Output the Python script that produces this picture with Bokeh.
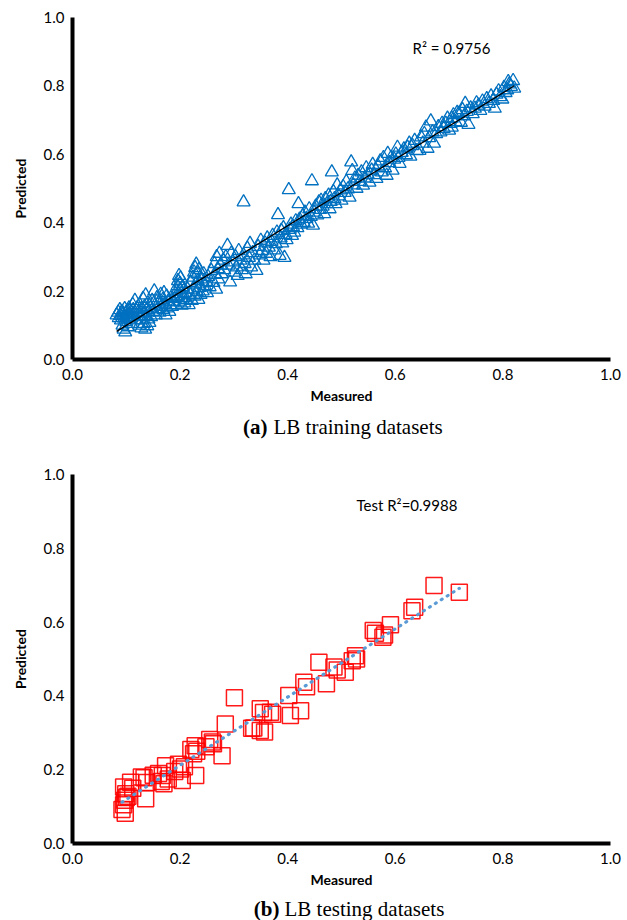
import numpy as np
from bokeh.plotting import figure
from bokeh.layouts import column
from bokeh.models import Range1d, FixedTicker, NumeralTickFormatter, Label
from bokeh.embed import file_html
from bokeh.resources import INLINE

# ---------------- data ----------------
tick_values = [0.0, 0.2, 0.4, 0.6, 0.8, 1.0]

train_measured = [
    0.082, 0.085, 0.086, 0.088, 0.090, 0.090, 0.092, 0.093, 0.094, 0.095, 0.096, 0.097, 0.098, 0.099, 0.100,
    0.100, 0.102, 0.103, 0.104, 0.105, 0.106, 0.108, 0.109, 0.110, 0.112, 0.113, 0.115, 0.116, 0.118, 0.120,
    0.122, 0.124, 0.125, 0.126, 0.128, 0.129, 0.130, 0.131, 0.132, 0.133, 0.134, 0.135, 0.136, 0.137, 0.138,
    0.139, 0.140, 0.141, 0.142, 0.143, 0.145, 0.146, 0.148, 0.150, 0.152, 0.153, 0.155, 0.157, 0.158, 0.160,
    0.162, 0.164, 0.165,
    0.168, 0.169, 0.170, 0.172, 0.173, 0.175, 0.176, 0.178, 0.180, 0.181, 0.183, 0.185, 0.187, 0.190, 0.192,
    0.194, 0.195, 0.196, 0.197, 0.198, 0.199, 0.200, 0.200, 0.201, 0.202, 0.203, 0.205, 0.207, 0.208, 0.210,
    0.212, 0.214, 0.216, 0.218, 0.220, 0.222, 0.224, 0.225, 0.226, 0.227, 0.228, 0.229, 0.230, 0.231, 0.232,
    0.233, 0.234, 0.235, 0.236, 0.238, 0.240, 0.242, 0.244, 0.246, 0.248, 0.250, 0.252, 0.255, 0.258,
    0.262, 0.264, 0.265, 0.267, 0.268, 0.270, 0.271, 0.273, 0.275, 0.277, 0.280, 0.282, 0.285, 0.288, 0.290,
    0.293, 0.295, 0.298, 0.300, 0.303, 0.305, 0.307, 0.309, 0.312, 0.315, 0.318, 0.318, 0.320,
    0.322, 0.325, 0.328, 0.330, 0.332, 0.335, 0.338, 0.342, 0.345, 0.348, 0.350, 0.352, 0.355, 0.358, 0.360,
    0.362, 0.365, 0.368, 0.370, 0.372, 0.375, 0.378, 0.380, 0.382, 0.385, 0.387, 0.388, 0.390, 0.392, 0.394,
    0.396, 0.398,
    0.402, 0.404, 0.406, 0.408, 0.410, 0.412, 0.415, 0.418, 0.420, 0.422, 0.425, 0.428, 0.430, 0.432, 0.435,
    0.438, 0.440, 0.443, 0.445, 0.447, 0.449, 0.452, 0.455, 0.458, 0.460, 0.462, 0.465, 0.468, 0.470, 0.473,
    0.476, 0.478, 0.480, 0.482, 0.485, 0.487, 0.489, 0.492, 0.495, 0.498,
    0.500, 0.503, 0.506, 0.509, 0.512, 0.515, 0.518, 0.520, 0.522, 0.525, 0.528, 0.531, 0.534, 0.537, 0.540,
    0.543, 0.546, 0.549, 0.552, 0.556, 0.558, 0.561, 0.565, 0.568, 0.572, 0.575, 0.578, 0.581, 0.584, 0.586,
    0.589, 0.592, 0.595, 0.598,
    0.601, 0.604, 0.606, 0.608, 0.612, 0.616, 0.620, 0.623, 0.626, 0.628, 0.632, 0.636, 0.640, 0.645, 0.648,
    0.651, 0.654, 0.657, 0.660, 0.663, 0.666, 0.669, 0.672, 0.676, 0.680, 0.684, 0.687, 0.690, 0.694, 0.697,
    0.700, 0.703, 0.705, 0.705, 0.708, 0.712, 0.715, 0.718, 0.722, 0.725, 0.728, 0.730, 0.733, 0.736, 0.740,
    0.744, 0.748, 0.751, 0.755, 0.758, 0.762, 0.766, 0.770, 0.774, 0.778, 0.782, 0.785, 0.788, 0.792, 0.795,
    0.799, 0.802, 0.805, 0.808, 0.812, 0.815, 0.819, 0.821, 0.810,
]
train_predicted = [
    0.130, 0.138, 0.122, 0.145, 0.128, 0.115, 0.140, 0.100, 0.132, 0.088, 0.120, 0.148, 0.080, 0.135, 0.110,
    0.125, 0.142, 0.095, 0.130, 0.150, 0.118, 0.138, 0.105, 0.125, 0.160, 0.145, 0.132, 0.172, 0.115, 0.150,
    0.138, 0.100, 0.160, 0.125, 0.092, 0.148, 0.115, 0.178, 0.135, 0.105, 0.155, 0.088, 0.188, 0.128, 0.145,
    0.098, 0.165, 0.118, 0.138, 0.108, 0.150, 0.125, 0.172, 0.140, 0.200, 0.158, 0.130, 0.180, 0.148, 0.165,
    0.138, 0.190, 0.155,
    0.175, 0.145, 0.195, 0.162, 0.130, 0.185, 0.150, 0.170, 0.140, 0.160, 0.180, 0.155, 0.168, 0.178, 0.160,
    0.200, 0.215, 0.230, 0.185, 0.245, 0.170, 0.222, 0.205, 0.238, 0.192, 0.158, 0.212, 0.180, 0.165, 0.195,
    0.175, 0.205, 0.160, 0.190, 0.225, 0.172, 0.240, 0.205, 0.255, 0.185, 0.268, 0.220, 0.278, 0.198, 0.250,
    0.230, 0.175, 0.262, 0.210, 0.190, 0.235, 0.200, 0.250, 0.215, 0.228, 0.195, 0.242, 0.212, 0.260,
    0.225, 0.280, 0.248, 0.205, 0.300, 0.265, 0.235, 0.310, 0.275, 0.250, 0.290, 0.262, 0.300, 0.333, 0.275,
    0.226, 0.310, 0.285, 0.255, 0.300, 0.270, 0.245, 0.318, 0.290, 0.262, 0.460, 0.305, 0.280,
    0.250, 0.325, 0.298, 0.339, 0.270, 0.312, 0.290, 0.260, 0.330, 0.305, 0.348, 0.318, 0.290, 0.340, 0.310,
    0.355, 0.328, 0.300, 0.345, 0.362, 0.320, 0.338, 0.372, 0.423, 0.304, 0.355, 0.377, 0.340, 0.385, 0.298,
    0.365, 0.350,
    0.496, 0.380, 0.395, 0.362, 0.388, 0.372, 0.405, 0.385, 0.455, 0.410, 0.395, 0.420, 0.400, 0.430, 0.412,
    0.398, 0.440, 0.418, 0.522, 0.392, 0.430, 0.448, 0.422, 0.460, 0.438, 0.465, 0.448, 0.426, 0.470, 0.455,
    0.480, 0.440, 0.462, 0.548, 0.490, 0.470, 0.455, 0.510, 0.478, 0.495,
    0.465, 0.505, 0.488, 0.520, 0.498, 0.474, 0.577, 0.552, 0.510, 0.530, 0.500, 0.538, 0.520, 0.548, 0.509,
    0.530, 0.560, 0.540, 0.518, 0.553, 0.570, 0.540, 0.529, 0.565, 0.580, 0.548, 0.590, 0.560, 0.538, 0.602,
    0.575, 0.590, 0.553, 0.585,
    0.600, 0.620, 0.590, 0.573, 0.605, 0.615, 0.598, 0.620, 0.632, 0.594, 0.625, 0.640, 0.610, 0.611, 0.650,
    0.632, 0.660, 0.679, 0.617, 0.648, 0.697, 0.665, 0.632, 0.660, 0.680, 0.665, 0.690, 0.675, 0.690, 0.705,
    0.670, 0.690, 0.679, 0.705, 0.715, 0.695, 0.722, 0.719, 0.693, 0.730, 0.712, 0.748, 0.725, 0.687, 0.735,
    0.718, 0.734, 0.750, 0.743, 0.728, 0.755, 0.740, 0.762, 0.748, 0.770, 0.757, 0.734, 0.775, 0.785, 0.768,
    0.761, 0.795, 0.780, 0.788, 0.805, 0.798, 0.815, 0.793, 0.812,
]

test_measured = [
    0.092, 0.095, 0.097, 0.099, 0.095, 0.100, 0.098, 0.103, 0.108, 0.112,
    0.128, 0.133, 0.136, 0.138, 0.150, 0.160, 0.165, 0.167, 0.170, 0.173,
    0.178, 0.190, 0.197, 0.201, 0.204, 0.208, 0.220, 0.225, 0.228, 0.229,
    0.231, 0.248, 0.255, 0.260, 0.262, 0.278, 0.284, 0.301, 0.333, 0.337,
    0.349, 0.357, 0.349, 0.355, 0.368, 0.372, 0.402, 0.405, 0.424, 0.430,
    0.435, 0.472, 0.458, 0.486, 0.492, 0.507, 0.520, 0.526, 0.528, 0.559,
    0.563, 0.577, 0.580, 0.591, 0.631, 0.636, 0.672, 0.719,
]
test_predicted = [
    0.092, 0.105, 0.117, 0.135, 0.153, 0.125, 0.082, 0.128, 0.166, 0.150,
    0.180, 0.178, 0.121, 0.165, 0.185, 0.190, 0.168, 0.184, 0.162, 0.211,
    0.175, 0.195, 0.215, 0.202, 0.171, 0.208, 0.255, 0.243, 0.265, 0.184,
    0.250, 0.262, 0.282, 0.275, 0.270, 0.238, 0.324, 0.395, 0.312, 0.313,
    0.306, 0.302, 0.365, 0.355, 0.356, 0.350, 0.401, 0.347, 0.360, 0.437,
    0.425, 0.433, 0.491, 0.478, 0.470, 0.464, 0.495, 0.509, 0.500, 0.577,
    0.570, 0.559, 0.565, 0.593, 0.631, 0.640, 0.699, 0.681,
]

train_r2_text = "R\u00b2 = 0.9756"
test_r2_text = "Test R\u00b2=0.9988"
x_title = "Measured"
y_title = "Predicted"
caption_a = ("(a)", "LB training datasets")
caption_b = ("(b)", "LB testing datasets")

TICK_FONT = "Lato"
CAP_FONT = "Liberation Serif"
W = 627


def style(p):
    p.xgrid.visible = False
    p.ygrid.visible = False
    p.outline_line_color = None
    p.background_fill_color = "white"
    for ax in (p.xaxis[0], p.yaxis[0]):
        ax.ticker = FixedTicker(ticks=tick_values)
        ax.formatter = NumeralTickFormatter(format="0.0")
        ax.axis_line_width = 4
        ax.axis_line_color = "black"
        ax.major_tick_in = 0
        ax.major_tick_out = 0
        ax.minor_tick_in = 0
        ax.minor_tick_out = 0
        ax.major_tick_line_color = None
        ax.minor_tick_line_color = None
        ax.major_label_text_font = TICK_FONT
        ax.major_label_text_font_size = "15px"
        ax.major_label_text_color = "black"
        ax.axis_label_text_font = TICK_FONT
        ax.axis_label_text_font_style = "bold"
        ax.axis_label_text_font_size = "14px"
        ax.axis_label_text_color = "black"
    p.xaxis[0].major_label_standoff = 9
    p.xaxis[0].axis_label_standoff = 4
    p.yaxis[0].major_label_standoff = 8
    p.yaxis[0].axis_label_standoff = 12
    p.xaxis[0].axis_label = x_title
    p.yaxis[0].axis_label = y_title


def caption(parts, h, yc, left, right, x_tag_end, x_rest):
    # the x range is given in page pixels so the text sits where the reference has it,
    # whatever frame alignment the column applies
    c = figure(width=W, height=h, x_range=Range1d(left, W - right), y_range=Range1d(0, h),
               toolbar_location=None, output_backend="svg",
               min_border_left=left, min_border_right=right, min_border_top=0, min_border_bottom=0,
               x_axis_type=None, y_axis_type=None)
    c.outline_line_color = None
    c.add_layout(Label(x=x_tag_end, y=yc, text=parts[0], text_font=CAP_FONT, text_font_style="bold",
                       text_font_size="21px", text_align="right", text_baseline="middle",
                       text_color="black"))
    c.add_layout(Label(x=x_rest, y=yc, text=parts[1], text_font=CAP_FONT,
                       text_font_size="21px", text_align="left", text_baseline="middle",
                       text_color="black"))
    return c


# ---------------- panel (a) ----------------
pa = figure(width=W, height=411, x_range=Range1d(0, 1), y_range=Range1d(0, 1),
            toolbar_location=None, output_backend="svg",
            min_border_left=68, min_border_right=13, min_border_top=17, min_border_bottom=52)
style(pa)
pa.scatter(train_measured, train_predicted, marker="triangle", size=13,
           fill_color=None, line_color="#0070C0", line_width=1.3)
tx = np.array(train_measured)
ty = np.array(train_predicted)
ka, ba = np.polyfit(tx, ty, 1)
xa = np.array([tx.min(), tx.max()])
pa.line(xa, ka * xa + ba, line_color="black", line_width=1.3)
pa.add_layout(Label(x=0.632, y=0.912, text=train_r2_text, text_font=TICK_FONT,
                    text_font_size="15px", text_baseline="middle", text_color="black"))

cap_a = caption(caption_a, 30, 15, 68, 13, 266, 272)

# ---------------- panel (b) ----------------
pb = figure(width=W, height=454, x_range=Range1d(0, 1), y_range=Range1d(0, 1),
            toolbar_location=None, output_backend="svg",
            min_border_left=72, min_border_right=17, min_border_top=33, min_border_bottom=52)
style(pb)
pb.scatter(test_measured, test_predicted, marker="square", size=16,
           fill_color=None, line_color="#FF0000", line_width=1.5, line_alpha=0.9)
ex = np.array(test_measured)
ey = np.array(test_predicted)
kb, bb = np.polyfit(ex, ey, 1)
xb = np.array([ex.min(), ex.max()])
pb.line(xb, kb * xb + bb, line_color="#5B9BD5", line_width=3.2, line_dash="1 6",
        line_cap="round")
pb.add_layout(Label(x=0.528, y=0.916, text=test_r2_text, text_font=TICK_FONT,
                    text_font_size="15px", text_baseline="middle", text_color="black"))

cap_b = caption(caption_b, 25, 12, 72, 17, 279, 284)

layout = column(pa, cap_a, pb, cap_b, spacing=0)

with open("out.html", "w") as f:
    f.write(file_html(layout, INLINE))
